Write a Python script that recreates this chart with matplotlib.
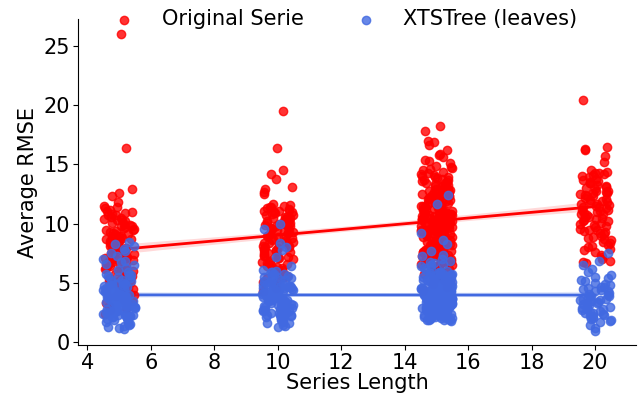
import numpy as np
import seaborn as sns
from matplotlib import pyplot as plt

# series lengths (x groups)
lengths = [5, 10, 15, 20]

# average RMSE of the original series, one list per length
orig_5 = [26.0, 16.4, 12.3, 12.6, 12.9,
          11.0, 11.1, 11.2, 11.3, 11.4, 11.5, 11.8,
          10.0, 10.1, 10.2, 10.3, 10.4, 10.5, 10.6, 10.7, 10.8, 10.9, 10.35, 10.75,
          9.0, 9.1, 9.2, 9.3, 9.4, 9.5, 9.6, 9.7, 9.8, 9.9, 9.15, 9.45, 9.65, 9.85,
          8.0, 8.1, 8.2, 8.3, 8.4, 8.5, 8.6, 8.7, 8.8, 8.9,
          8.05, 8.25, 8.35, 8.55, 8.65, 8.75, 8.95,
          7.0, 7.1, 7.2, 7.3, 7.4, 7.5, 7.6, 7.7, 7.8, 7.9,
          7.05, 7.15, 7.35, 7.45, 7.55, 7.65, 7.85, 7.95,
          6.0, 6.1, 6.2, 6.3, 6.4, 6.5, 6.6, 6.7, 6.8, 6.9,
          6.05, 6.25, 6.45, 6.55, 6.75, 6.95,
          5.0, 5.1, 5.2, 5.3, 5.4, 5.5, 5.6, 5.7, 5.8, 5.9, 5.15, 5.45, 5.65, 5.85,
          4.0, 4.1, 4.2, 4.3, 4.4, 4.5, 4.6, 4.7, 4.8, 4.9,
          3.1, 3.3, 3.5, 3.6, 3.8, 3.9, 2.4, 2.7, 2.9]
orig_10 = [19.5, 16.4, 14.2, 14.5, 13.1, 13.8, 12.5, 12.7, 12.9,
           11.0, 11.1, 11.2, 11.3, 11.4, 11.5, 11.6, 11.7, 11.05, 11.25, 11.45,
           10.0, 10.1, 10.2, 10.3, 10.4, 10.5, 10.6, 10.7, 10.8, 10.9,
           10.05, 10.25, 10.45, 10.55, 10.75, 10.95,
           9.0, 9.1, 9.2, 9.3, 9.4, 9.5, 9.6, 9.7, 9.8, 9.9,
           9.05, 9.25, 9.35, 9.55, 9.65, 9.85, 9.95,
           8.0, 8.1, 8.2, 8.3, 8.4, 8.5, 8.6, 8.7, 8.8, 8.9,
           8.05, 8.15, 8.35, 8.45, 8.65, 8.85, 8.95,
           7.0, 7.1, 7.2, 7.3, 7.4, 7.5, 7.6, 7.7, 7.8, 7.9,
           7.15, 7.35, 7.55, 7.75, 7.95,
           6.0, 6.1, 6.2, 6.3, 6.4, 6.5, 6.6, 6.7, 6.8, 6.9, 6.35, 6.75,
           5.1, 5.2, 5.4, 5.5, 5.6, 5.7, 5.8, 5.9, 4.3, 4.6, 4.9]
orig_15 = [18.2, 17.8, 17.0, 16.2, 16.6, 16.9,
           15.1, 15.3, 15.4, 15.6, 15.8, 15.9,
           14.0, 14.1, 14.2, 14.3, 14.4, 14.5, 14.6, 14.7, 14.8, 14.9,
           13.0, 13.1, 13.2, 13.3, 13.4, 13.5, 13.6, 13.7, 13.8, 13.9,
           13.15, 13.35, 13.45, 13.65, 13.85, 13.95,
           12.0, 12.1, 12.2, 12.3, 12.4, 12.5, 12.6, 12.7, 12.8, 12.9,
           12.05, 12.15, 12.25, 12.35, 12.45, 12.55, 12.65, 12.75, 12.85, 12.95,
           12.33, 12.67,
           11.0, 11.1, 11.2, 11.3, 11.4, 11.5, 11.6, 11.7, 11.8, 11.9,
           11.05, 11.15, 11.25, 11.35, 11.45, 11.55, 11.65, 11.75, 11.85, 11.95,
           11.02, 11.12, 11.22, 11.32, 11.42, 11.52, 11.62, 11.72, 11.82, 11.92,
           10.0, 10.1, 10.2, 10.3, 10.4, 10.5, 10.6, 10.7, 10.8, 10.9,
           10.05, 10.15, 10.25, 10.35, 10.45, 10.55, 10.65, 10.75, 10.85, 10.95,
           10.02, 10.12, 10.22, 10.32, 10.42, 10.52, 10.62, 10.72, 10.82, 10.92,
           10.37, 10.63,
           9.0, 9.1, 9.2, 9.3, 9.4, 9.5, 9.6, 9.7, 9.8, 9.9,
           9.05, 9.15, 9.25, 9.35, 9.45, 9.55, 9.65, 9.75, 9.85, 9.95,
           9.02, 9.12, 9.22, 9.32, 9.42, 9.52, 9.62, 9.72, 9.82, 9.92,
           9.37, 9.63,
           8.0, 8.1, 8.2, 8.3, 8.4, 8.5, 8.6, 8.7, 8.8, 8.9,
           8.05, 8.15, 8.25, 8.35, 8.45, 8.55, 8.65, 8.75, 8.85, 8.95,
           8.02, 8.28, 8.42, 8.58, 8.72, 8.88, 8.33, 8.67,
           7.0, 7.1, 7.2, 7.3, 7.4, 7.5, 7.6, 7.7, 7.8, 7.9,
           7.05, 7.15, 7.25, 7.35, 7.45, 7.55, 7.65, 7.75, 7.85, 7.95,
           7.33, 7.67,
           6.0, 6.1, 6.2, 6.3, 6.4, 6.5, 6.6, 6.7, 6.8, 6.9,
           6.15, 6.45, 6.65, 6.85,
           5.2, 5.3, 5.5, 5.6, 5.7, 5.8, 5.9, 5.45, 4.4, 4.7, 4.9]
orig_20 = [20.4, 16.2, 16.5, 16.3, 15.2, 15.7,
           14.0, 14.1, 14.2, 14.3, 14.4, 14.5, 14.25,
           13.0, 13.1, 13.2, 13.3, 13.4, 13.5, 13.6, 13.7, 13.8, 13.9, 13.45,
           12.0, 12.1, 12.2, 12.3, 12.4, 12.5, 12.6, 12.7, 12.8, 12.9,
           12.35, 12.55, 12.75,
           11.0, 11.1, 11.2, 11.3, 11.4, 11.5, 11.6, 11.7, 11.8, 11.9,
           11.15, 11.45, 11.65, 11.85,
           10.0, 10.1, 10.2, 10.3, 10.4, 10.5, 10.6, 10.7, 10.8, 10.9,
           10.25, 10.55, 10.85,
           9.0, 9.1, 9.2, 9.3, 9.4, 9.5, 9.6, 9.7, 9.8, 9.9, 9.45,
           8.0, 8.1, 8.2, 8.4, 8.5, 8.6, 8.7, 8.8, 8.9,
           7.0, 7.2, 7.4, 7.6, 7.8, 7.9, 6.7, 6.9, 6.8]

# average RMSE of the XTSTree leaves
tree_5 = [8.1, 8.3, 8.5, 7.0, 7.3, 7.5, 7.7, 7.9,
          6.1, 6.3, 6.5, 6.6, 6.8, 6.9,
          5.0, 5.1, 5.2, 5.3, 5.4, 5.5, 5.6, 5.7, 5.8, 5.9, 5.25, 5.65,
          4.0, 4.1, 4.2, 4.3, 4.4, 4.5, 4.6, 4.7, 4.8, 4.9,
          4.05, 4.15, 4.25, 4.35, 4.45, 4.55, 4.65, 4.75, 4.85, 4.95,
          4.12, 4.28, 4.42, 4.58, 4.72, 4.88,
          3.0, 3.1, 3.2, 3.3, 3.4, 3.5, 3.6, 3.7, 3.8, 3.9,
          3.05, 3.15, 3.25, 3.35, 3.45, 3.55, 3.65, 3.75, 3.85, 3.95,
          3.02, 3.12, 3.22, 3.32, 3.42, 3.52, 3.62, 3.72, 3.82, 3.92,
          3.37, 3.63,
          2.0, 2.1, 2.2, 2.3, 2.4, 2.5, 2.6, 2.7, 2.8, 2.9,
          2.05, 2.15, 2.25, 2.35, 2.45, 2.55, 2.65, 2.75, 2.85, 2.95,
          2.02, 2.18, 2.32, 2.48, 2.62, 2.78, 2.88, 2.42,
          1.1, 1.2, 1.3, 1.4, 1.5, 1.6, 1.7, 1.8, 1.9, 1.55]
tree_10 = [10.0, 9.6, 8.0, 8.4, 7.2, 7.8, 6.0, 6.1, 6.4,
           5.0, 5.1, 5.2, 5.3, 5.4, 5.5, 5.6, 5.7, 5.8, 5.9,
           5.05, 5.25, 5.45, 5.55, 5.75, 5.95,
           4.0, 4.1, 4.2, 4.3, 4.4, 4.5, 4.6, 4.7, 4.8, 4.9,
           4.05, 4.15, 4.25, 4.35, 4.45, 4.55, 4.65, 4.75, 4.85, 4.95,
           4.22, 4.48, 4.62, 4.78,
           3.0, 3.1, 3.2, 3.3, 3.4, 3.5, 3.6, 3.7, 3.8, 3.9,
           3.05, 3.15, 3.25, 3.35, 3.45, 3.55, 3.65, 3.75, 3.85, 3.95,
           3.12, 3.28, 3.42, 3.58, 3.72, 3.88,
           2.0, 2.1, 2.2, 2.3, 2.4, 2.5, 2.6, 2.7, 2.8, 2.9,
           2.05, 2.15, 2.25, 2.35, 2.45, 2.55, 2.65, 2.75, 2.85, 2.95,
           2.33, 2.67,
           1.3, 1.4, 1.5, 1.6, 1.7, 1.8, 1.9, 1.65]
tree_15 = [12.4, 11.7, 9.2, 8.3, 8.6, 7.0, 7.3, 7.4, 7.7,
           6.0, 6.1, 6.2, 6.3, 6.4, 6.5, 6.6, 6.7, 6.8, 6.9,
           5.0, 5.1, 5.2, 5.3, 5.4, 5.5, 5.6, 5.7, 5.8, 5.9,
           5.05, 5.15, 5.25, 5.35, 5.45, 5.55, 5.65, 5.75, 5.85, 5.95,
           5.12, 5.28, 5.42, 5.58, 5.72, 5.88, 5.33, 5.67,
           4.0, 4.1, 4.2, 4.3, 4.4, 4.5, 4.6, 4.7, 4.8, 4.9,
           4.05, 4.15, 4.25, 4.35, 4.45, 4.55, 4.65, 4.75, 4.85, 4.95,
           4.02, 4.12, 4.22, 4.32, 4.42, 4.52, 4.62, 4.72, 4.82, 4.92,
           4.08, 4.18, 4.28, 4.38, 4.48, 4.58, 4.68, 4.78, 4.88, 4.98,
           4.33, 4.67,
           3.0, 3.1, 3.2, 3.3, 3.4, 3.5, 3.6, 3.7, 3.8, 3.9,
           3.05, 3.15, 3.25, 3.35, 3.45, 3.55, 3.65, 3.75, 3.85, 3.95,
           3.02, 3.12, 3.22, 3.32, 3.42, 3.52, 3.62, 3.72, 3.82, 3.92,
           3.08, 3.18, 3.28, 3.38, 3.48, 3.58, 3.68, 3.78, 3.88, 3.98,
           3.04, 3.14, 3.24, 3.34, 3.44, 3.54, 3.64, 3.74, 3.84, 3.94,
           2.0, 2.1, 2.2, 2.3, 2.4, 2.5, 2.6, 2.7, 2.8, 2.9,
           2.05, 2.15, 2.25, 2.35, 2.45, 2.55, 2.65, 2.75, 2.85, 2.95,
           2.02, 2.12, 2.22, 2.32, 2.42, 2.52, 2.62, 2.72, 2.82, 2.92,
           2.08, 2.18, 2.28, 2.38, 2.48, 2.58, 2.68, 2.78, 2.88, 2.98,
           2.13, 2.37, 2.53, 2.77, 2.83,
           1.85, 1.9, 1.95, 1.8, 1.88, 1.92]
tree_20 = [7.5, 6.2, 6.5, 6.9,
           5.0, 5.2, 5.4, 5.5, 5.7, 5.9, 5.3,
           4.0, 4.1, 4.2, 4.3, 4.4, 4.5, 4.6, 4.7, 4.8, 4.9, 4.35, 4.65,
           3.0, 3.1, 3.2, 3.3, 3.4, 3.5, 3.6, 3.7, 3.8, 3.9,
           3.15, 3.35, 3.55, 3.65, 3.85, 3.95,
           2.0, 2.1, 2.2, 2.3, 2.4, 2.5, 2.6, 2.7, 2.8, 2.9,
           2.25, 2.45, 2.65, 2.85,
           1.0, 1.2, 1.5, 1.8, 1.9, 1.7]

orig_groups = [orig_5, orig_10, orig_15, orig_20]
tree_groups = [tree_5, tree_10, tree_15, tree_20]


def flatten(groups):
    xs, ys = [], []
    for length, vals in zip(lengths, groups):
        xs += [length] * len(vals)
        ys += vals
    return np.array(xs, dtype=float), np.array(ys)


# seaborn jitters the points itself, fix the seed so the picture is stable
np.random.seed(3)

fig = plt.figure(figsize=(6.44, 3.97), dpi=100)
ax = fig.add_axes([0.121, 0.13, 0.867, 0.822])

x_o, y_o = flatten(orig_groups)
x_t, y_t = flatten(tree_groups)

sns.regplot(x=x_o, y=y_o, ax=ax, color='red', x_jitter=0.5, seed=1,
            label='Original Serie', scatter_kws={'zorder': 3},
            line_kws={'zorder': 2, 'lw': 2})
sns.regplot(x=x_t, y=y_t, ax=ax, color='royalblue', x_jitter=0.5, seed=1,
            label='XTSTree (leaves)', scatter_kws={'zorder': 3},
            line_kws={'zorder': 2, 'lw': 2})

sns.despine(ax=ax)
ax.set_xlabel('Series Length', fontsize=15, labelpad=0)
ax.set_ylabel('Average RMSE', fontsize=15)
ax.tick_params(labelsize=15, pad=2)
ax.set_xticks([4, 6, 8, 10, 12, 14, 16, 18, 20])
ax.set_yticks([0, 5, 10, 15, 20, 25])

ax.legend(loc='center', bbox_to_anchor=(0.47, 1.0), ncol=2, frameon=False,
          fontsize=15, scatterpoints=1)

plt.savefig('out.png', dpi=100)
